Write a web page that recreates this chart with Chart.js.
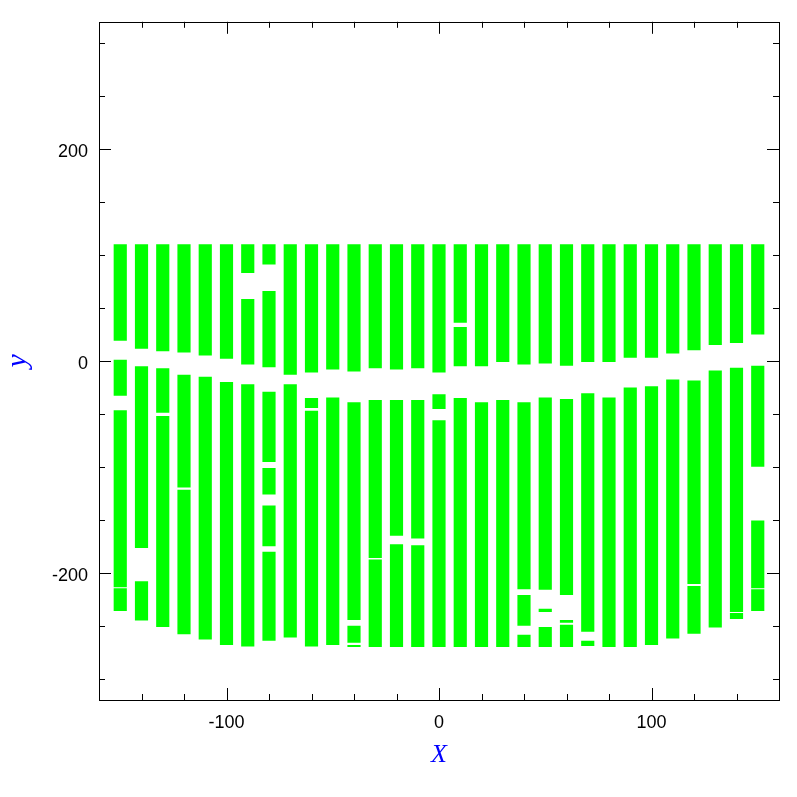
<!DOCTYPE html>
<html>
<head>
<meta charset="utf-8">
<script src="https://cdn.jsdelivr.net/npm/chart.js"></script>
<style>
  html, body { margin: 0; padding: 0; background: #fff; }
</style>
</head>
<body>
<canvas id="chart" width="797" height="797"></canvas>
<script>
// column positions along X
const colX = [-150, -140, -130, -120, -110, -100, -90, -80, -70, -60, -50, -40, -30, -20, -10,
  0, 10, 20, 30, 40, 50, 60, 70, 80, 90, 100, 110, 120, 130, 140, 150];

// upper band pieces per column, [low, high]
const upperSegs = [
  [[19, 110]], [[11.5, 110]], [[9, 110]], [[8, 110]], [[5, 110]], [[2, 110]],
  [[83, 110], [-3.5, 58.5]], [[91, 110], [-6, 66]],
  [[-13, 110]], [[-11, 110]], [[-8, 110]], [[-10, 110]], [[-7, 110]], [[-8, 110]], [[-7, 110]],
  [[-11, 110]], [[36, 110], [-5, 32]], [[-5, 110]], [[-1, 110]], [[-3.5, 110]], [[-2.5, 110]],
  [[-4.5, 110]], [[-1, 110]], [[-1, 110]], [[3, 110]], [[3, 110]], [[7, 110]], [[10, 110]],
  [[15, 110]], [[17, 110]], [[25, 110]]
];

// lower band pieces per column, [low, high]
const lowerSegs = [
  [[-33, 1], [-213.5, -46.5], [-236, -214.5]],
  [[-176.5, -5], [-245, -208]],
  [[-49, -7], [-251, -52]],
  [[-119.5, -13], [-258, -121.5]],
  [[-263, -15]],
  [[-268, -20]],
  [[-269.5, -22]],
  [[-95.5, -29], [-126, -101], [-175, -136.5], [-264, -180]],
  [[-261, -22]],
  [[-44.5, -35], [-269.5, -47]],
  [[-268, -34.5]],
  [[-244.5, -39], [-266, -250], [-270, -268]],
  [[-186, -37], [-270, -187.5]],
  [[-165, -37], [-270, -173]],
  [[-167.5, -37], [-270, -174]],
  [[-45.5, -31.5], [-270, -56]],
  [[-270, -35]],
  [[-270, -39]],
  [[-270, -37]],
  [[-215.5, -39], [-250, -221], [-270, -258.5]],
  [[-216, -34.5], [-237, -234], [-270, -251]],
  [[-221, -36], [-247, -244.5], [-270, -249]],
  [[-255.5, -30.5], [-269, -264]],
  [[-270, -34.5]],
  [[-270, -25]],
  [[-268, -24]],
  [[-262, -17.5]],
  [[-210.5, -18.5], [-257.5, -212.5]],
  [[-251.5, -9]],
  [[-237, -6.5], [-243.5, -238]],
  [[-100, -4.5], [-214.5, -150.5], [-236, -215.5]]
];

const xTickLabels = [-100, 0, 100];
const yTickLabels = [-200, 0, 200];
const xMinorStep = 20;
const yMinorStep = 50;

const green = '#00ff00';

function layers(segs) {
  let out = [];
  let depth = Math.max(...segs.map(s => s.length));
  for (let k = 0; k < depth; k++) {
    let data = [];
    for (let i = 0; i < colX.length; i++) {
      if (segs[i][k]) {
        data.push({ x: colX[i], y: segs[i][k] });
      }
    }
    out.push({
      data: data,
      backgroundColor: green,
      borderWidth: 0,
      borderSkipped: false,
      grouped: false,
      barPercentage: 0.62,
      categoryPercentage: 1
    });
  }
  return out;
}

// box with inward ticks on all four sides
const frame = {
  id: 'frame',
  afterDraw(chart) {
    const ctx = chart.ctx;
    const a = chart.chartArea;
    const xs = chart.scales.x;
    const ys = chart.scales.y;
    ctx.save();
    ctx.strokeStyle = '#000';
    ctx.lineWidth = 1;
    ctx.strokeRect(Math.round(a.left) + 0.5, Math.round(a.top) + 0.5,
      Math.round(a.right - a.left), Math.round(a.bottom - a.top));
    ctx.beginPath();
    for (let v = -160 + xMinorStep; v < 160; v += xMinorStep) {
      let p = Math.round(xs.getPixelForValue(v)) + 0.5;
      let len = xTickLabels.includes(v) ? 12 : 6;
      ctx.moveTo(p, a.bottom); ctx.lineTo(p, a.bottom - len);
      ctx.moveTo(p, a.top); ctx.lineTo(p, a.top + len);
    }
    for (let v = -300; v <= 300; v += yMinorStep) {
      let p = Math.round(ys.getPixelForValue(v)) + 0.5;
      let len = yTickLabels.includes(v) ? 12 : 6;
      ctx.moveTo(a.left, p); ctx.lineTo(a.left + len, p);
      ctx.moveTo(a.right, p); ctx.lineTo(a.right - len, p);
    }
    ctx.stroke();
    ctx.restore();
  }
};

const tickFont = { family: "'Liberation Sans', Arial, sans-serif", size: 18 };
const serif = "'Liberation Serif', 'DejaVu Serif', serif";

const ctx = document.getElementById('chart').getContext('2d');
const myChart = new Chart(ctx, {
  type: 'bar',
  data: {
    datasets: layers(upperSegs).concat(layers(lowerSegs))
  },
  options: {
    responsive: false,
    animation: false,
    devicePixelRatio: 1,
    layout: { padding: { top: 19, right: 18, left: 0, bottom: 0 } },
    plugins: {
      legend: { display: false },
      tooltip: { enabled: false }
    },
    scales: {
      x: {
        type: 'linear',
        min: -160,
        max: 160,
        offset: false,
        grid: { display: false, drawTicks: false },
        border: { display: false },
        ticks: {
          stepSize: 100,
          autoSkip: false,
          maxRotation: 0,
          padding: 12,
          color: '#000',
          font: tickFont,
          callback: v => xTickLabels.includes(v) ? String(v) : ''
        },
        title: {
          display: true, text: 'X', color: '#0000ff',
          font: { family: serif, size: 26, style: 'italic' },
          padding: { top: 0, bottom: 26 }
        },
        afterFit(scale) { scale.height = 97; }
      },
      y: {
        type: 'linear',
        min: -320,
        max: 320,
        grid: { display: false, drawTicks: false },
        border: { display: false },
        ticks: {
          stepSize: 100,
          autoSkip: false,
          padding: 11,
          labelOffset: 3,
          color: '#000',
          font: tickFont,
          callback: v => yTickLabels.includes(v) ? String(v) : ''
        },
        title: {
          display: true, text: 'y', color: '#0000ff',
          font: { family: serif, size: 30, style: 'italic' },
          padding: { top: 0, bottom: 0 }
        },
        afterFit(scale) { scale.width = 99; }
      }
    }
  },
  plugins: [frame]
});
</script>
</body>
</html>
